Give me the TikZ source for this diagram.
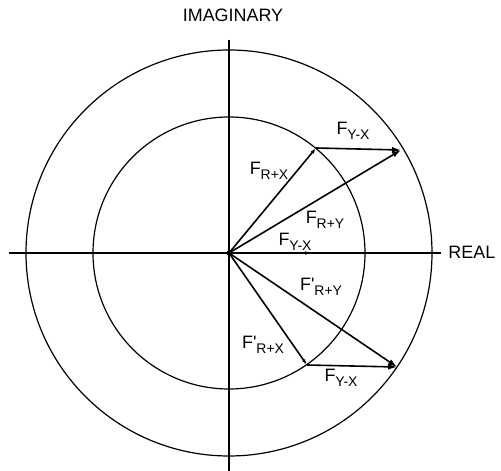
\documentclass[tikz,border=0pt]{standalone}
\usepackage{fontspec}
\setmainfont{Liberation Sans}
\usetikzlibrary{arrows.meta}
\newcommand{\Fsub}[2]{F#1\raisebox{-0.55ex}{\fontsize{7}{8}\selectfont #2}}

\begin{document}
\begin{tikzpicture}[
  x=0.5bp, y=0.5bp,
  axis/.style={line width=0.7bp},
  ring/.style={line width=0.6bp},
  vec/.style={line width=0.8bp, -{Latex[length=4.5bp,width=3bp]}},
  subvec/.style={line width=0.8bp, -{Latex[length=3bp,width=1.8bp]}},
  lbl/.style={font=\fontsize{9}{10}\selectfont, inner sep=0pt}
]
\useasboundingbox (-229,-218) rectangle (272,253);

% Origin and the tips of the vectors
\coordinate (O) at (0,0);
\coordinate (A) at (87,105);
\coordinate (B) at (172,103);
\coordinate (C) at (78,-112);
\coordinate (D) at (168,-114);
\coordinate (E) at (82,0);

% Axes
\coordinate (Xl) at (-220,0);
\coordinate (Xr) at (212,0);
\coordinate (Yt) at (0,213);
\coordinate (Yb) at (0,-218);
\draw[axis] (Xl) -- (Xr);
\draw[axis] (Yt) -- (Yb);
\node[lbl, right] (real) at (219,1) {REAL};
\node[lbl] (imag) at (4,238) {IMAGINARY};

% Circles
\draw[ring] (O) circle[radius=136];
\draw[ring] (O) circle[radius=203];

% Upper vectors
\draw[subvec] (O) -- (A);
\draw[vec] (A) -- (B);
\draw[vec] (O) -- (B);

% Lower vectors
\draw[subvec] (O) -- (C);
\draw[vec] (C) -- (D);
\draw[vec] (O) -- (D);

% Along the real axis
\draw[subvec] (O) -- (E);
\fill (O) circle[radius=2.5];

% Labels
\node[lbl] (frx) at (40,82) {\Fsub{}{R+X}};
\node[lbl] (fyx1) at (124,122) {\Fsub{}{Y-X}};
\node[lbl] (fry) at (96,33) {\Fsub{}{R+Y}};
\node[lbl] (fyx0) at (66,11) {\Fsub{}{Y-X}};
\node[lbl] (fry2) at (92,-34) {\Fsub{\textquotesingle}{R+Y}};
\node[lbl] (frx2) at (34,-92) {\Fsub{\textquotesingle}{R+X}};
\node[lbl] (fyx2) at (112,-125) {\Fsub{}{Y-X}};

\end{tikzpicture}
\end{document}
